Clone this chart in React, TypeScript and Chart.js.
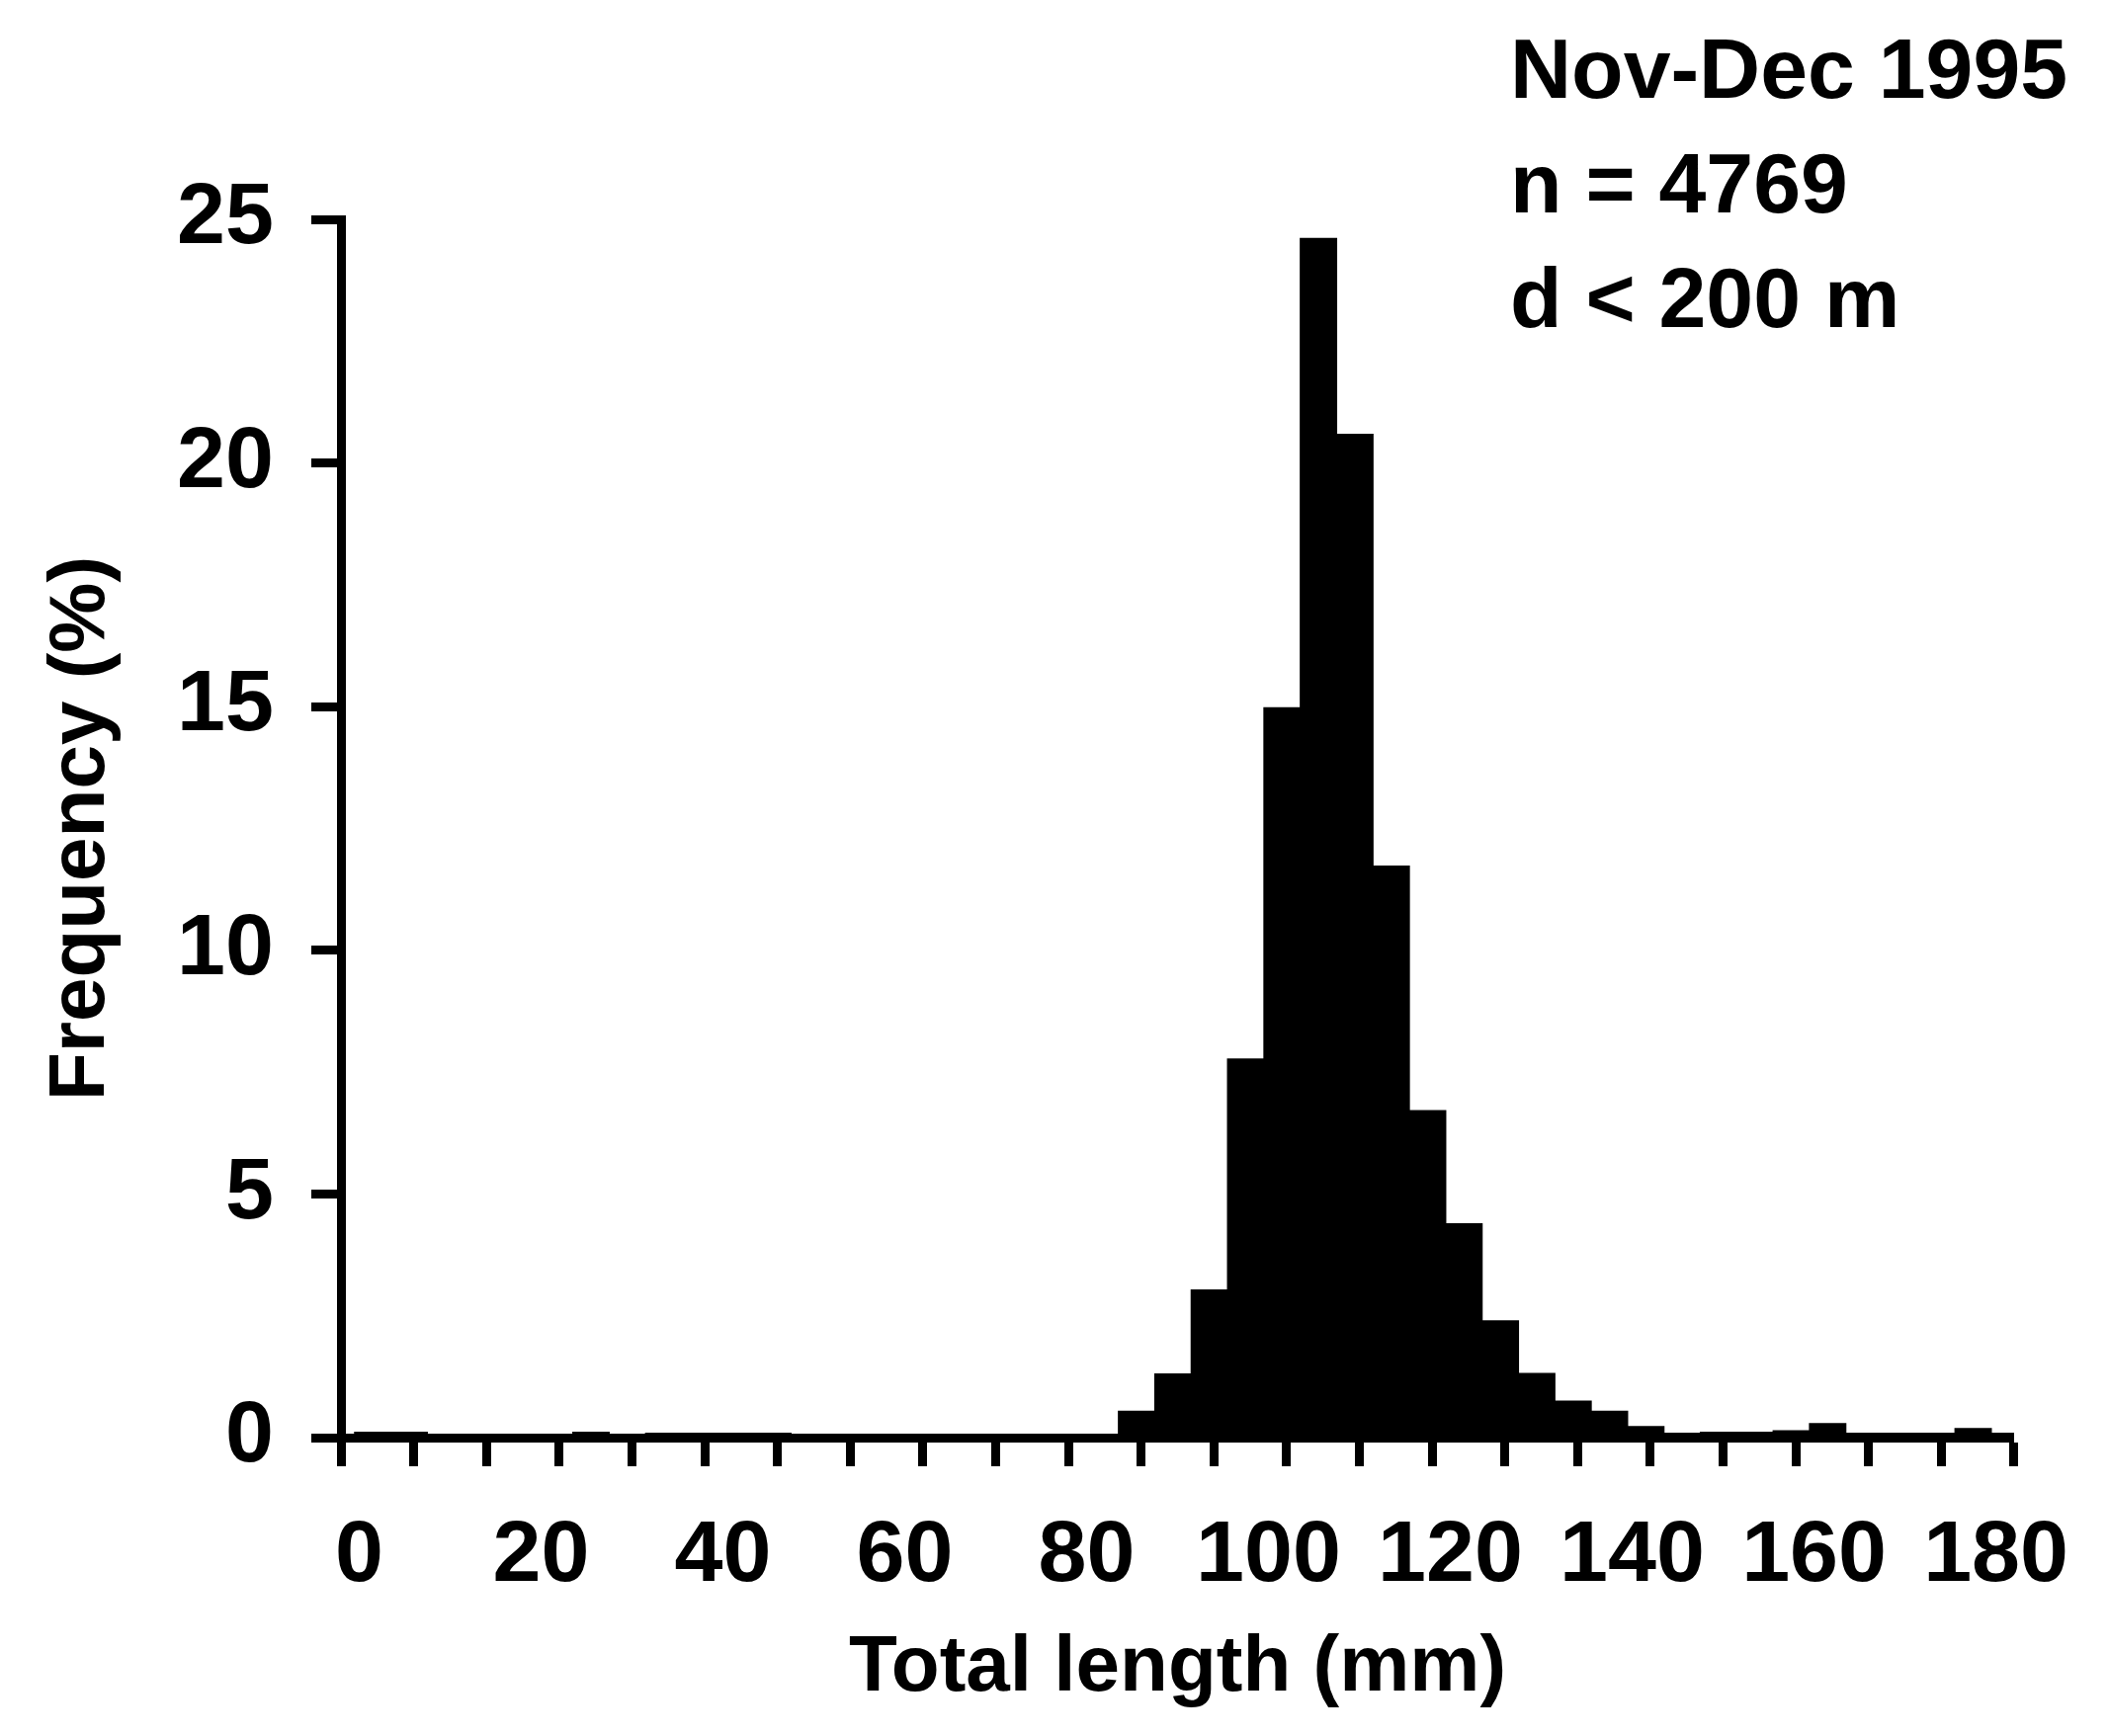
import React, { useEffect, useRef } from 'react';
import { Chart, registerables } from 'chart.js';

Chart.register(...registerables);

// Length bins (4 mm wide), given by their centres (mm)
const BIN_CENTERS = [
  1.5, 5.5, 9.5, 13.5, 17.5, 21.5, 25.5, 29.5, 33.5, 37.5, 41.5, 45.5, 49.5, 53.5, 57.5, 61.5, 65.5, 69.5, 73.5, 77.5, 81.5,
  85.5, 89.5, 93.5, 97.5, 101.5, 105.5, 109.5, 113.5, 117.5, 121.5, 125.5, 129.5, 133.5, 137.5, 141.5,
  145.5, 149.5, 153.5, 157.5, 161.5, 165.5, 169.5, 173.5, 177.5, 181.5,
];

// Frequency (%) per bin
const FREQUENCY = [
  0.12, 0.12, 0.08, 0.08, 0.08, 0.08, 0.12, 0.05, 0.1, 0.1, 0.1, 0.1, 0.05, 0.05, 0.05, 0.08, 0.08, 0.05, 0.05, 0.05, 0.05,
  0.55, 1.32, 3.04, 7.78, 14.99, 24.62, 20.6, 11.74, 6.72, 4.4, 2.41, 1.33, 0.76, 0.55, 0.24,
  0.1, 0.12, 0.12, 0.15, 0.3, 0.1, 0.1, 0.1, 0.2, 0.1,
];

const X_TICK_MARKS = [-2, 6, 14, 22, 30, 38, 46, 54, 62, 70, 78, 86, 94, 102, 110, 118, 126, 134, 142, 150, 158, 166, 174, 182];
const X_LABELS = [0, 20, 40, 60, 80, 100, 120, 140, 160, 180];
const Y_TICKS = [0, 5, 10, 15, 20, 25];

const X_TITLE = 'Total length (mm)';
const Y_TITLE = 'Frequency (%)';
const ANNOTATION_LINES = ['Nov-Dec 1995', 'n = 4769', 'd < 200 m'];

const INK = '#000000';
const TICK_FONT = { family: '"Liberation Sans", Arial, sans-serif', size: 88, weight: 'bold' as const };
const TITLE_FONT = { family: '"Liberation Sans", Arial, sans-serif', size: 80, weight: 'bold' as const };

const annotationPlugin = {
  id: 'cornerAnnotation',
  afterDraw(chart: any) {
    const ctx = chart.ctx;
    ctx.save();
    ctx.font = 'bold 86px "Liberation Sans", Arial, sans-serif';
    ctx.fillStyle = INK;
    ctx.textAlign = 'left';
    ctx.textBaseline = 'alphabetic';
    ANNOTATION_LINES.forEach((t, i) => ctx.fillText(t, 1528, 99 + i * 116));
    ctx.restore();
  },
};

export default function App() {
  const ref = useRef<HTMLCanvasElement>(null);

  useEffect(() => {
    const canvas = ref.current;
    if (!canvas) return;
    const chart = new Chart(canvas, {
      type: 'bar',
      data: {
        datasets: [
          {
            label: 'Frequency',
            data: BIN_CENTERS.map((c, i) => ({ x: c, y: FREQUENCY[i] })),
            backgroundColor: INK,
            borderWidth: 0,
            barPercentage: 1.03,
            categoryPercentage: 1,
          },
        ],
      },
      options: {
        responsive: false,
        animation: false,
        devicePixelRatio: 1,
        layout: { padding: { top: 222, right: 81, left: 0, bottom: 0 } },
        plugins: {
          legend: { display: false },
          tooltip: { enabled: false },
        },
        scales: {
          x: {
            type: 'linear',
            position: 'bottom',
            weight: 0,
            offset: false,
            min: -2,
            max: 182,
            afterBuildTicks: (s: any) => {
              s.ticks = X_TICK_MARKS.map((v) => ({ value: v }));
            },
            afterFit: (s: any) => {
              s.height = 29;
            },
            grid: {
              display: true,
              offset: false,
              drawOnChartArea: false,
              drawTicks: true,
              tickLength: 29,
              tickWidth: 9,
              tickColor: INK,
            },
            border: { display: true, color: INK, width: 9 },
            ticks: { display: false },
          },
          x2: {
            type: 'linear',
            position: 'bottom',
            weight: 1,
            offset: false,
            min: -2,
            max: 182,
            afterBuildTicks: (s: any) => {
              s.ticks = X_LABELS.map((v) => ({ value: v }));
            },
            afterFit: (s: any) => {
              s.height = 273;
            },
            grid: { display: false, drawTicks: false, offset: false },
            border: { display: false },
            ticks: {
              font: TICK_FONT,
              color: INK,
              padding: 39,
              maxRotation: 0,
              autoSkip: false,
              callback: (v: any) => String(v),
            },
            title: {
              display: true,
              text: X_TITLE,
              font: TITLE_FONT,
              color: INK,
              padding: { top: 0, bottom: 20 },
            },
          },
          y: {
            type: 'linear',
            position: 'left',
            min: 0,
            max: 25,
            afterBuildTicks: (s: any) => {
              s.ticks = Y_TICKS.map((v) => ({ value: v }));
            },
            afterFit: (s: any) => {
              s.width = 345;
            },
            grid: {
              display: true,
              drawOnChartArea: false,
              drawTicks: true,
              tickLength: 30,
              tickWidth: 9,
              tickColor: INK,
            },
            border: { display: true, color: INK, width: 9 },
            ticks: {
              font: TICK_FONT,
              color: INK,
              padding: 38,
              callback: (v: any) => String(v),
            },
            title: {
              display: true,
              text: Y_TITLE,
              font: TITLE_FONT,
              color: INK,
              padding: { top: 35, bottom: 0 },
            },
          },
        },
      },
      plugins: [annotationPlugin],
    } as any);
    return () => chart.destroy();
  }, []);

  return (
    <div style={{ position: 'fixed', left: 0, top: 0, width: 2133, height: 1757, background: '#ffffff' }}>
      <canvas ref={ref} width={2133} height={1757} style={{ display: 'block', width: 2133, height: 1757 }} />
    </div>
  );
}
